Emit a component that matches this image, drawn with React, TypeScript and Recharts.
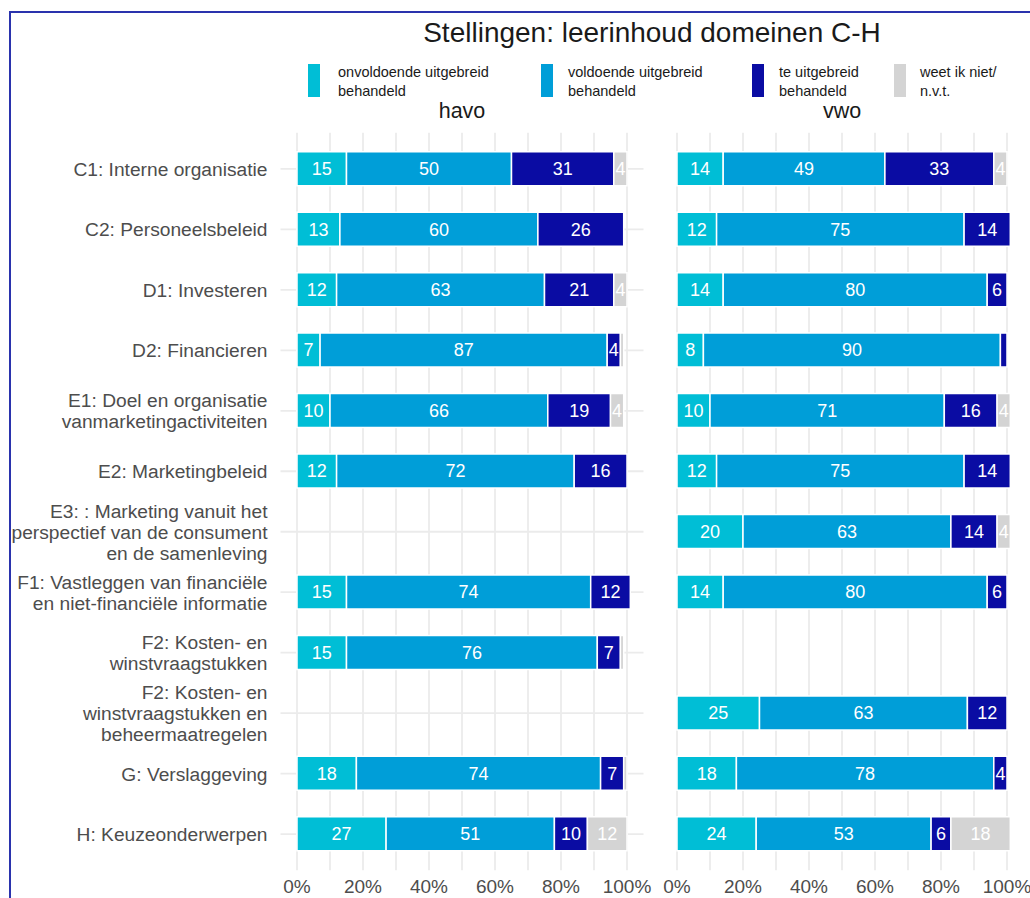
import React from "react";
import {
  BarChart,
  Bar,
  XAxis,
  YAxis,
  CartesianGrid,
  LabelList,
} from "recharts";

const categories = [
  "C1: Interne organisatie",
  "C2: Personeelsbeleid",
  "D1: Investeren",
  "D2: Financieren",
  "E1: Doel en organisatie\nvanmarketingactiviteiten",
  "E2: Marketingbeleid",
  "E3: : Marketing vanuit het\nperspectief van de consument\nen de samenleving",
  "F1: Vastleggen van financiële\nen niet-financiële informatie",
  "F2: Kosten- en\nwinstvraagstukken",
  "F2: Kosten- en\nwinstvraagstukken en\nbeheermaatregelen",
  "G: Verslaggeving",
  "H: Keuzeonderwerpen",
];

const seriesNames = [
  "onvoldoende uitgebreid\nbehandeld",
  "voldoende uitgebreid\nbehandeld",
  "te uitgebreid\nbehandeld",
  "weet ik niet/\nn.v.t.",
];
const seriesColors = ["#00bed6", "#009ed8", "#0a0ca3", "#d4d4d4"];

const havoOnv = [15, 13, 12, 7, 10, 12, null, 15, 15, null, 18, 27];
const havoVol = [50, 60, 63, 87, 66, 72, null, 74, 76, null, 74, 51];
const havoTe = [31, 26, 21, 4, 19, 16, null, 12, 7, null, 7, 10];
const havoWeet = [4, 0, 4, 1, 4, 0, null, 0, 1, null, 1, 12];

const vwoOnv = [14, 12, 14, 8, 10, 12, 20, 14, null, 25, 18, 24];
const vwoVol = [49, 75, 80, 90, 71, 75, 63, 80, null, 63, 78, 53];
const vwoTe = [33, 14, 6, 2, 16, 14, 14, 6, null, 12, 4, 6];
const vwoWeet = [4, 0, 0, 0, 4, 0, 4, 0, null, 0, 0, 18];

const xTicks = [0, 10, 20, 30, 40, 50, 60, 70, 80, 90, 100];

const FONT = '"Liberation Sans", Arial, sans-serif';
const AXIS_GREY = "#4d4d4d";

function build(onv, vol, te, weet) {
  return categories.map((cat, i) => ({
    cat,
    onv: onv[i],
    vol: vol[i],
    te: te[i],
    weet: weet[i],
  }));
}

const havoData = build(havoOnv, havoVol, havoTe, havoWeet);
const vwoData = build(vwoOnv, vwoVol, vwoTe, vwoWeet);

const fmt = (v) => (v == null || v < 3 ? "" : String(v));

function CatTick({ x, y, payload }) {
  const lines = String(payload.value).split("\n");
  const lh = 21;
  const start = y - ((lines.length - 1) * lh) / 2;
  return (
    <text x={x} y={start} textAnchor="end" fill={AXIS_GREY} fontSize={19.2} fontFamily={FONT}>
      {lines.map((l, i) => (
        <tspan key={i} x={x} y={start + i * lh} dy="0.36em">
          {l}
        </tspan>
      ))}
    </text>
  );
}

function PctTick({ x, y, payload }) {
  if (payload.value % 20 !== 0) return null;
  return (
    <text x={x} y={y} dy="0.71em" textAnchor="middle" fill={AXIS_GREY} fontSize={19} fontFamily={FONT}>
      {payload.value}%
    </text>
  );
}

const keys = ["onv", "vol", "te", "weet"];

function Panel({ data, showLabels, width, margin }) {
  return (
    <BarChart
      layout="vertical"
      width={width}
      height={898}
      data={data}
      margin={margin}
      barCategoryGap={0}
      style={{ overflow: "visible" }}
    >
      <CartesianGrid stroke="#ebebeb" strokeWidth={1.8} syncWithTicks />
      <XAxis
        type="number"
        domain={[-5, 105]}
        allowDataOverflow
        ticks={xTicks}
        interval={0}
        axisLine={false}
        tickLine={false}
        tickSize={0}
        tickMargin={9}
        height={27.7}
        tick={<PctTick />}
      />
      <YAxis
        type="category"
        dataKey="cat"
        width={showLabels ? 280.5 : 0}
        axisLine={false}
        tickLine={false}
        tickSize={0}
        tickMargin={13}
        interval={0}
        padding={{ top: 6, bottom: 6 }}
        tick={showLabels ? <CatTick /> : false}
      />
      {keys.map((k, i) => (
        <Bar
          key={k}
          dataKey={k}
          stackId="a"
          fill={seriesColors[i]}
          stroke="#ffffff"
          strokeWidth={1.5}
          barSize={34}
          isAnimationActive={false}
        >
          <LabelList
            dataKey={k}
            position="center"
            fill="#ffffff"
            fontSize={18}
            fontFamily={FONT}
            formatter={fmt}
          />
        </Bar>
      ))}
    </BarChart>
  );
}

const legendKeyX = [308, 541, 752, 894];
const legendTextX = [338, 568, 779, 920];

export default function App() {
  return (
    <div
      style={{
        position: "absolute",
        left: 0,
        top: 0,
        width: 1030,
        height: 898,
        background: "#ffffff",
        fontFamily: FONT,
        overflow: "hidden",
      }}
    >
      <div
        style={{
          position: "absolute",
          left: 9,
          top: 11,
          right: -5,
          bottom: -5,
          borderLeft: "2px solid #2a33ad",
          borderTop: "2px solid #2a33ad",
        }}
      />
      <div
        style={{
          position: "absolute",
          left: 0,
          width: 1304,
          top: 16,
          textAlign: "center",
          fontSize: 28,
          color: "#1a1a1a",
          lineHeight: "34px",
        }}
      >
        Stellingen: leerinhoud domeinen C-H
      </div>
      {seriesNames.map((name, i) => (
        <React.Fragment key={name}>
          <div
            style={{
              position: "absolute",
              left: legendKeyX[i],
              top: 64,
              width: 12,
              height: 33,
              background: seriesColors[i],
            }}
          />
          <div
            style={{
              position: "absolute",
              left: legendTextX[i],
              top: 63,
              fontSize: 14.5,
              lineHeight: "19px",
              color: "#1a1a1a",
              whiteSpace: "pre",
            }}
          >
            {name}
          </div>
        </React.Fragment>
      ))}
      <div
        style={{
          position: "absolute",
          left: 280.5,
          width: 363,
          top: 98,
          textAlign: "center",
          fontSize: 21.5,
          color: "#1a1a1a",
          lineHeight: "26px",
        }}
      >
        havo
      </div>
      <div
        style={{
          position: "absolute",
          left: 660.5,
          width: 363,
          top: 98,
          textAlign: "center",
          fontSize: 21.5,
          color: "#1a1a1a",
          lineHeight: "26px",
        }}
      >
        vwo
      </div>
      <div style={{ position: "absolute", left: 0, top: 0 }}>
        <Panel
          data={havoData}
          showLabels
          width={670}
          margin={{ top: 132.7, right: 26.5, bottom: 0, left: 0 }}
        />
      </div>
      <div style={{ position: "absolute", left: 655, top: 0 }}>
        <Panel
          data={vwoData}
          showLabels={false}
          width={375}
          margin={{ top: 132.7, right: 6.5, bottom: 0, left: 5.5 }}
        />
      </div>
    </div>
  );
}
